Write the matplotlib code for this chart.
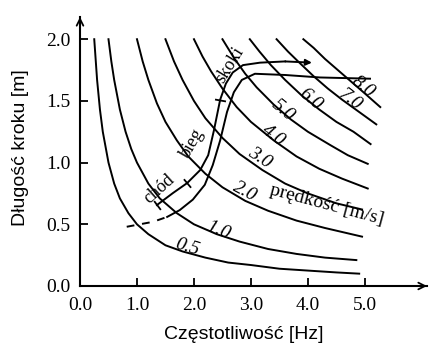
import matplotlib
matplotlib.use('Agg')
import matplotlib.pyplot as plt

# constant-speed curves (frequency [Hz], step length [m])
f_05 = [0.25, 0.3, 0.35, 0.4, 0.5, 0.6, 0.7, 0.85, 1.0, 1.2, 1.5, 1.8, 2.2, 2.6, 3.0, 3.5, 4.0, 4.5, 4.9]
L_05 = [2.0, 1.67, 1.43, 1.25, 1.0, 0.83, 0.71, 0.59, 0.5, 0.42, 0.33, 0.28, 0.23, 0.19, 0.17, 0.14, 0.125, 0.11, 0.10]
f_10 = [0.5, 0.55, 0.6, 0.7, 0.8, 0.9, 1.0, 1.2, 1.4, 1.7, 2.0, 2.4, 2.8, 3.3, 3.8, 4.3, 4.85]
L_10 = [2.0, 1.82, 1.67, 1.43, 1.25, 1.11, 1.0, 0.83, 0.71, 0.59, 0.5, 0.42, 0.36, 0.30, 0.26, 0.23, 0.21]
f_20 = [1.0, 1.1, 1.2, 1.35, 1.5, 1.7, 1.9, 2.2, 2.5, 2.9, 3.3, 3.8, 4.3, 4.95]
L_20 = [2.0, 1.82, 1.67, 1.48, 1.33, 1.18, 1.05, 0.91, 0.8, 0.69, 0.61, 0.53, 0.47, 0.40]
f_30 = [1.5, 1.65, 1.8, 2.0, 2.2, 2.5, 2.8, 3.2, 3.6, 4.0, 4.5, 4.95]
L_30 = [2.0, 1.82, 1.67, 1.5, 1.36, 1.2, 1.07, 0.94, 0.83, 0.75, 0.67, 0.62]
f_40 = [2.0, 2.15, 2.3, 2.5, 2.75, 3.0, 3.4, 3.8, 4.2, 4.6, 5.05]
L_40 = [2.0, 1.86, 1.74, 1.6, 1.45, 1.33, 1.18, 1.05, 0.95, 0.87, 0.79]
f_50 = [2.5, 2.7, 2.9, 3.1, 3.4, 3.7, 4.0, 4.4, 4.7, 5.05]
L_50 = [2.0, 1.85, 1.72, 1.61, 1.47, 1.35, 1.25, 1.14, 1.06, 0.99]
f_60 = [2.98, 3.15, 3.35, 3.6, 3.9, 4.2, 4.5, 4.8, 5.1]
L_60 = [2.0, 1.9, 1.79, 1.67, 1.54, 1.43, 1.33, 1.25, 1.15]
f_70 = [3.45, 3.65, 3.85, 4.1, 4.35, 4.6, 4.9, 5.2]
L_70 = [2.0, 1.9, 1.81, 1.7, 1.6, 1.51, 1.41, 1.31]
f_80 = [3.92, 4.1, 4.3, 4.5, 4.75, 5.0, 5.27]
L_80 = [2.0, 1.93, 1.84, 1.76, 1.66, 1.56, 1.45]

# speed labels: text, position, rotation
speed_text = ['0.5', '1.0', '2.0', '3.0', '4.0', '5.0', '6.0', '7.0', '8.0']
speed_f = [1.89, 2.42, 2.89, 3.16, 3.39, 3.56, 4.04, 4.74, 4.96]
speed_L = [0.31, 0.45, 0.76, 1.04, 1.22, 1.42, 1.51, 1.51, 1.61]
speed_rot = [-17, -22, -28, -33, -37, -40, -40, -38, -38]

# gait band (walk -> run -> jump), two edges
gait_a_f = [1.35, 1.63, 1.88, 2.11, 2.25, 2.35, 2.46, 2.56, 2.68, 2.86, 3.16, 3.60, 4.07]
gait_a_L = [0.656, 0.753, 0.834, 0.94, 1.06, 1.26, 1.51, 1.64, 1.73, 1.79, 1.81, 1.82, 1.81]
gait_b_dash_f = [0.82, 1.05, 1.28, 1.53]
gait_b_dash_L = [0.48, 0.50, 0.52, 0.56]
gait_b_f = [1.53, 1.75, 1.98, 2.19, 2.33, 2.46, 2.58, 2.70, 2.84, 3.07, 3.6, 4.21, 5.09]
gait_b_L = [0.56, 0.615, 0.70, 0.82, 0.98, 1.18, 1.41, 1.57, 1.67, 1.72, 1.71, 1.69, 1.68]
tick_f = [1.35, 1.88, 2.46]
tick_L = [0.656, 0.834, 1.51]
tick_ang = [37, 40, 80]

gait_text = ['chód', 'bieg', 'skoki']
gait_f = [1.40, 1.98, 2.63]
gait_L = [0.79, 1.16, 1.79]
gait_rot = [42, 60, 58]

serif = 'Liberation Serif'
sans = 'Liberation Sans'

fig = plt.figure(figsize=(4.29, 3.45), dpi=100)
ax = fig.add_axes([80 / 429, 59 / 345, 347 / 429, 269 / 345])
ax.set_xlim(0, 6.09)
ax.set_ylim(0, 2.18)

curves = [(f_05, L_05), (f_10, L_10), (f_20, L_20), (f_30, L_30), (f_40, L_40),
          (f_50, L_50), (f_60, L_60), (f_70, L_70), (f_80, L_80)]
for f, L in curves:
    ax.plot(f, L, color='black', lw=1.4)

for t, x, y, r in zip(speed_text, speed_f, speed_L, speed_rot):
    ax.text(x, y, t, rotation=r, ha='center', va='center', fontsize=14,
            family=serif, style='italic', rotation_mode='anchor')

ax.text(4.33, 0.66, 'prędkość [m/s]', rotation=-15, ha='center', va='center',
        fontsize=14, family=serif, rotation_mode='anchor')

# gait band
ax.plot(gait_a_f[:-1], gait_a_L[:-1], color='black', lw=1.4)
ax.annotate('', xy=(gait_a_f[-1], gait_a_L[-1]), xytext=(gait_a_f[-2], gait_a_L[-2]),
            arrowprops=dict(arrowstyle='-|>', lw=1.4, color='black',
                            mutation_scale=9, shrinkA=0, shrinkB=0))
ax.plot(gait_b_dash_f, gait_b_dash_L, color='black', lw=1.4, linestyle=(0, (4, 4)))
ax.plot(gait_b_f, gait_b_L, color='black', lw=1.4)
for x, y, a in zip(tick_f, tick_L, tick_ang):
    ax.plot([x], [y], marker=(2, 0, a), markersize=8, color='black', mew=1.3)

for t, x, y, r in zip(gait_text, gait_f, gait_L, gait_rot):
    ax.text(x, y, t, rotation=r, ha='center', va='center', fontsize=13,
            family=serif, rotation_mode='anchor')

# axes with arrows
for s in ['top', 'right']:
    ax.spines[s].set_visible(False)
for s in ['left', 'bottom']:
    ax.spines[s].set_linewidth(1.5)
ax.annotate('', xy=(1, 0), xycoords='axes fraction', xytext=(0.95, 0),
            arrowprops=dict(arrowstyle='->', lw=1.3, color='black',
                            shrinkA=0, shrinkB=0, mutation_scale=12))
ax.annotate('', xy=(0, 1), xycoords='axes fraction', xytext=(0, 0.95),
            arrowprops=dict(arrowstyle='->', lw=1.3, color='black',
                            shrinkA=0, shrinkB=0, mutation_scale=12))

ax.set_xticks([0, 1, 2, 3, 4, 5])
ax.set_xticklabels(['0.0', '1.0', '2.0', '3.0', '4.0', '5.0'], family=serif)
ax.set_yticks([0, 0.5, 1.0, 1.5, 2.0])
ax.set_yticklabels(['0.0', '0.5', '1.0', '1.5', '2.0'], family=serif)
ax.tick_params(direction='in', length=6, width=1.3, labelsize=14)
ax.tick_params(axis='x', pad=8)
ax.tick_params(axis='y', pad=7)

ax.set_xlabel('Częstotliwość [Hz]', fontsize=14, family=sans)
ax.xaxis.set_label_coords(0.473, -0.15)
ax.set_ylabel('Długość kroku [m]', fontsize=14, family=sans)
ax.yaxis.set_label_coords(-0.148, 0.513)

fig.savefig('out.png', dpi=100)
